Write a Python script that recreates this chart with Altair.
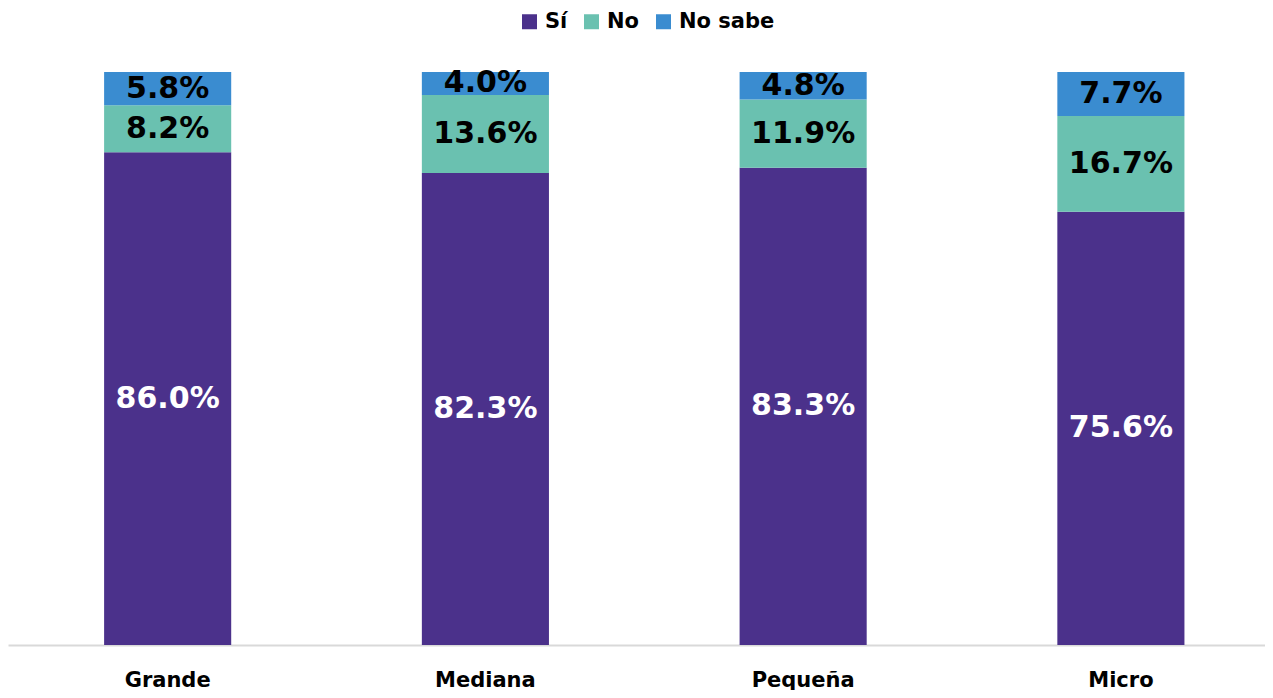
import altair as alt
import pandas as pd

categories = ["Grande", "Mediana", "Pequeña", "Micro"]
series = ["Sí", "No", "No sabe"]
si_values = [86.0, 82.3, 83.3, 75.6]
no_values = [8.2, 13.6, 11.9, 16.7]
nosabe_values = [5.8, 4.0, 4.8, 7.7]
colors = ["#4B318B", "#6AC1B0", "#3A8CD0"]

rows = []
for i, c in enumerate(categories):
    for j, (s, vals) in enumerate(zip(series, [si_values, no_values, nosabe_values])):
        rows.append({"cat": c, "serie": s, "value": vals[i], "ord": j})
df = pd.DataFrame(rows)

FONT = "DejaVu Sans"

base = alt.Chart(df).transform_stack(
    stack="value", groupby=["cat"], as_=["y0", "y1"],
    sort=[alt.SortField("ord", order="ascending")], offset="normalize"
).transform_calculate(
    mid="(datum.y0 + datum.y1) / 2",
    label="format(datum.value, '.1f') + '%'",
    tcolor="datum.serie === 'Sí' ? 'white' : 'black'"
)

xenc = alt.X("cat:N", sort=categories, title=None,
             scale=alt.Scale(paddingInner=0.6, paddingOuter=0.278, align=0.544),
             axis=alt.Axis(labelAngle=0, labelFontSize=21, labelFont=FONT,
                           labelFontWeight="bold", labelColor="black",
                           labelPadding=24, ticks=False, domainColor="#d9d9d9",
                           domainWidth=2))

bars = base.mark_bar().encode(
    x=xenc,
    y=alt.Y("y0:Q", scale=alt.Scale(domain=[0, 1]), axis=None),
    y2="y1:Q",
    color=alt.Color("serie:N", sort=series,
                    scale=alt.Scale(domain=series, range=colors),
                    legend=alt.Legend(title=None, orient="none", direction="horizontal",
                                      legendX=511, legendY=-61,
                                      symbolType="square", symbolSize=225,
                                      symbolStrokeWidth=0,
                                      labelFont=FONT, labelFontSize=21,
                                      labelFontWeight="bold", labelColor="black",
                                      columnPadding=13, labelOffset=5)),
)

texts = base.mark_text(font=FONT, fontSize=30, fontWeight="bold", baseline="middle").encode(
    x=alt.X("cat:N", sort=categories),
    y=alt.Y("mid:Q"),
    text="label:N",
    color=alt.Color("tcolor:N", scale=None),
)

chart = alt.layer(bars, texts).properties(
    width=1257, height=573,
    autosize="none",
    padding={"left": 0, "top": 64, "right": 0, "bottom": 45},
).configure_view(stroke=None)

chart.save("out.html", embed_options={"renderer": "svg", "actions": False})
